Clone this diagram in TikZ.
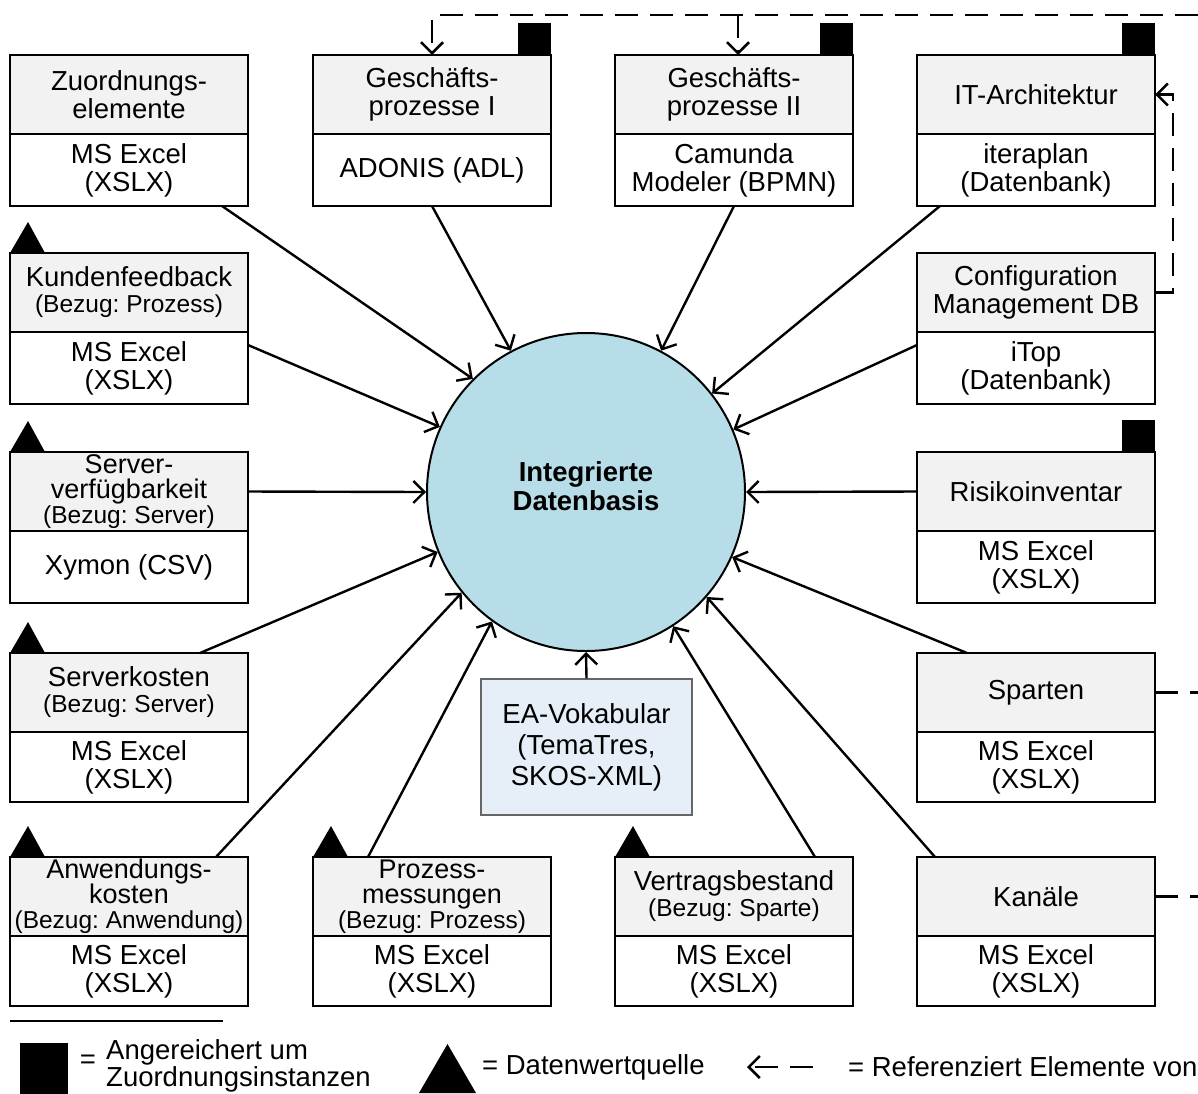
\documentclass[tikz,border=0pt]{standalone}
\usepackage{fontspec}
\setmainfont{Liberation Sans}
\usetikzlibrary{arrows.meta,calc}
\definecolor{hdrgray}{HTML}{F2F2F2}
\definecolor{dbblue}{HTML}{B7DEE8}
\definecolor{eablue}{HTML}{E6EEF8}
\frenchspacing
\newcommand{\fsz}[2]{\fontsize{#1}{#2}\selectfont}
\newcommand{\smtxt}[1]{{\fsz{24.5}{24}#1}}
\newcommand{\sqmark}[1]{\fill (#1.north east) rectangle ++(-33,-32);}
\newcommand{\trimark}[1]{\fill (#1.north west) -- ++(35,0) -- ++(-17,-31) -- cycle;}
\begin{document}
\begin{tikzpicture}[x=1pt,y=-1pt,
  box/.style={draw, line width=2, minimum width=238, inner sep=0pt, outer sep=0pt, align=center, anchor=north west, font=\fsz{27.5}{28}},
  hdr/.style={box, fill=hdrgray, minimum height=79},
  hdrtwo/.style={hdr, font=\fsz{27.5}{26}},
  hdrthree/.style={hdr, font=\fsz{27}{25.2}},
  bdy/.style={box, fill=white, minimum height=72},
  conn/.style={line width=2.4, -{Straight Barb[length=11pt,width=22pt]}},
  refarrow/.style={line width=2.5, dash pattern=on 23pt off 12pt, -{Straight Barb[length=11pt,width=22pt]}},
  refline/.style={line width=2.5, dash pattern=on 23pt off 12pt},
  legtext/.style={inner sep=0pt, font=\fsz{27.5}{27}}
]
\useasboundingbox (0,0) rectangle (1198,1093);
\clip (0,0) rectangle (1198,1093);

% central database
\node[circle, draw, line width=2, fill=dbblue, minimum size=318, inner sep=0pt] (db) at (586,492) {};
\node[align=center, inner sep=0pt, font=\bfseries\fsz{27.5}{29}] (dbt) at (586,486) {Integrierte\\Datenbasis};

% row 1
\node[hdr] (h11) at (10,55) {Zuordnungs-\\elemente};
\node[bdy] (b11) at (h11.south west) {MS Excel\\(XSLX)};
\node[hdr] (h12) at (313,55) {Geschäfts-\\prozesse I};
\node[bdy] (b12) at (h12.south west) {ADONIS (ADL)};
\node[hdr] (h13) at (615,55) {Geschäfts-\\prozesse II};
\node[bdy] (b13) at (h13.south west) {Camunda\\Modeler (BPMN)};
\node[hdr] (h14) at (917,55) {IT-Architektur};
\node[bdy] (b14) at (h14.south west) {iteraplan\\(Datenbank)};

% row 2
\node[hdrtwo] (h21) at (10,253) {Kundenfeedback\\\smtxt{(Bezug: Prozess)}};
\node[bdy] (b21) at (h21.south west) {MS Excel\\(XSLX)};
\node[hdr] (h24) at (917,253) {Configuration\\Management DB};
\node[bdy] (b24) at (h24.south west) {iTop\\(Datenbank)};

% row 3
\node[hdrthree] (h31) at (10,452) {Server-\\verfügbarkeit\\\smtxt{(Bezug: Server)}};
\node[bdy] (b31) at (h31.south west) {Xymon (CSV)};
\node[hdr] (h34) at (917,452) {Risikoinventar};
\node[bdy] (b34) at (h34.south west) {MS Excel\\(XSLX)};

% row 4
\node[hdrtwo] (h41) at (10,653) {Serverkosten\\\smtxt{(Bezug: Server)}};
\node[bdy, minimum height=70] (b41) at (h41.south west) {MS Excel\\(XSLX)};
\node[hdr] (h44) at (917,653) {Sparten};
\node[bdy, minimum height=70] (b44) at (h44.south west) {MS Excel\\(XSLX)};

% row 5
\node[hdrthree] (h51) at (10,857) {Anwendungs-\\kosten\\\smtxt{(Bezug: Anwendung)}};
\node[bdy, minimum height=70] (b51) at (h51.south west) {MS Excel\\(XSLX)};
\node[hdrthree] (h52) at (313,857) {Prozess-\\messungen\\\smtxt{(Bezug: Prozess)}};
\node[bdy, minimum height=70] (b52) at (h52.south west) {MS Excel\\(XSLX)};
\node[hdrtwo] (h53) at (615,857) {Vertragsbestand\\\smtxt{(Bezug: Sparte)}};
\node[bdy, minimum height=70] (b53) at (h53.south west) {MS Excel\\(XSLX)};
\node[hdr] (h54) at (917,857) {Kanäle};
\node[bdy, minimum height=70] (b54) at (h54.south west) {MS Excel\\(XSLX)};

% vocabulary
\node[draw=black!60, line width=1.4, fill=eablue, minimum width=211, minimum height=136, inner sep=0pt, align=center, font=\fsz{27.5}{31}] (ea) at (586.5,747) {EA-Vokabular\\(TemaTres,\\SKOS-XML)};

% markers
\sqmark{h12}
\sqmark{h13}
\sqmark{h14}
\sqmark{h34}
\trimark{h21}
\trimark{h31}
\trimark{h41}
\trimark{h51}
\trimark{h52}
\trimark{h53}

% connectors to the database
\draw[conn] ($(b11.south west)+(212,0)$) -- (db.135.3);
\draw[conn] (b12.south) -- (db.118.7);
\draw[conn] (b13.south) -- (db.62.8);
\draw[conn] ($(b14.south west)+(23,0)$) -- (db.38.9);
\draw[conn] ($(b21.north east)+(0,13)$) -- (db.156.7);
\draw[conn] ($(b24.north west)+(0,13)$) -- (db.23.7);
\draw[conn] (h31.east) -- (db.180);
\draw[conn] (h34.west) -- (db.0);
\draw[conn] ($(h41.north west)+(190,0)$) -- (db.202.3);
\draw[conn] ($(h44.north west)+(50,0)$) -- (db.336.8);
\draw[conn] ($(h51.north west)+(206,0)$) -- (db.219.9);
\draw[conn] ($(h52.north west)+(55,0)$) -- (db.234.9);
\draw[conn] ($(h53.north west)+(200,0)$) -- (db.303.9);
\draw[conn] ($(h54.north west)+(18,0)$) -- (db.319.6);
\draw[conn] (ea.north) -- (db.south);

% reference connectors
\coordinate (rt) at (1240,15);
\draw[refarrow] (h44.east) -| (rt) -| (h12.north);
\draw[refline] (h54.east) -| (rt);
\draw[refarrow] ($(h13.north |- rt)+(4,0)$) -- ($(h13.north)+(4,0)$);
\draw[refarrow] (h24.east) -- ++(18,0) |- (h14.east);

% legend
\draw[line width=2] (10,1021) -- (223,1021);
\fill (20,1043) rectangle (68,1100);
\node[legtext] (eq1) at (88,1062) {=};
\node[legtext, anchor=west, align=left] (lg1) at (106,1066) {Angereichert um\\Zuordnungsinstanzen};
\fill (419,1093) -- (476,1093) -- (447.5,1044) -- cycle;
\node[legtext, anchor=west] (lg2) at (482,1067) {= Datenwertquelle};
\coordinate (la) at (813,1067);
\coordinate (lb) at (747,1067);
\draw[refarrow] (la) -- (lb);
\node[legtext, anchor=west] (lg3) at (848,1067) {= Referenziert Elemente von};
\end{tikzpicture}
\end{document}
